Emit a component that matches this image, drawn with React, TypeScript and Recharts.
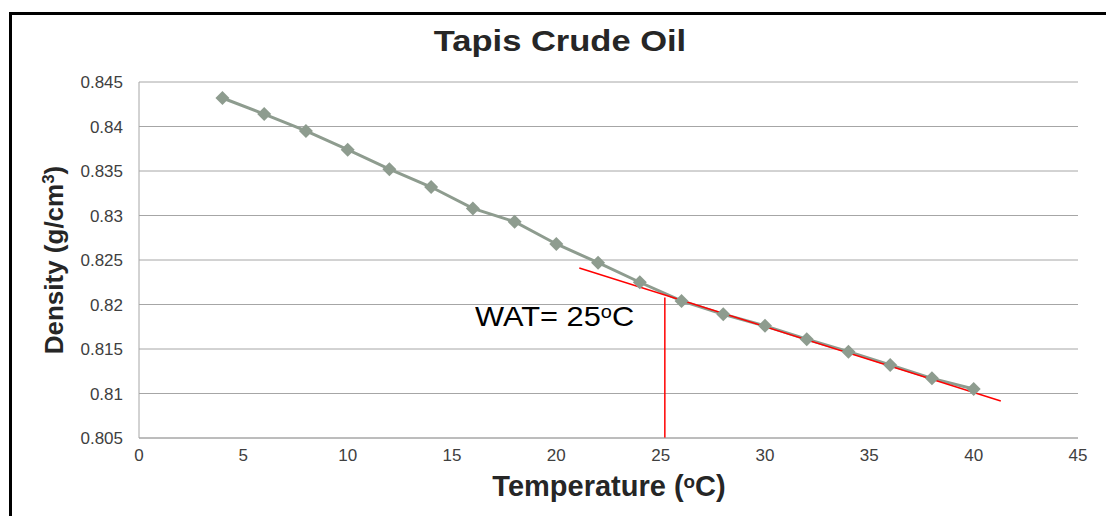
import React from "react";
import {
  ComposedChart,
  Line,
  XAxis,
  YAxis,
  CartesianGrid,
  ReferenceLine,
} from "recharts";

// Measured density of Tapis crude oil against temperature
const temperatures = [4, 6, 8, 10, 12, 14, 16, 18, 20, 22, 24, 26, 28, 30, 32, 34, 36, 38, 40];
const densities = [
  0.8432, 0.8414, 0.8395, 0.8374, 0.8352, 0.8332, 0.8308, 0.8293, 0.8268, 0.8247,
  0.8225, 0.8204, 0.8189, 0.8176, 0.8161, 0.8147, 0.8132, 0.8117, 0.8105,
];

const xTicks = [0, 5, 10, 15, 20, 25, 30, 35, 40, 45];
const yTicks = [0.805, 0.81, 0.815, 0.82, 0.825, 0.83, 0.835, 0.84, 0.845];

// Tangent fitted to the high-temperature branch, and the wax appearance temperature
const tangentStart = { x: 21.1, y: 0.8241 };
const tangentEnd = { x: 41.3, y: 0.80915 };
const watTemperature = 25.2;
const watDensity = 0.8208;

const data = temperatures.map((t, i) => ({ t, d: densities[i] }));

const FONT = "'Liberation Sans', Arial, sans-serif";
const LINE_COLOR = "#8e9c8f";

const Diamond = (props: any) => {
  const { cx, cy, index } = props;
  if (cx == null || cy == null) return null;
  const r = 7;
  return (
    <path
      key={`d-${index}`}
      d={`M${cx},${cy - r} L${cx + r},${cy} L${cx},${cy + r} L${cx - r},${cy} Z`}
      fill={LINE_COLOR}
      stroke="none"
    />
  );
};

const sup = (shift: string) => ({ fontSize: "0.65em", verticalAlign: shift });

export default function App() {
  return (
    <div
      style={{
        position: "absolute",
        left: 0,
        top: 0,
        width: 1106,
        height: 516,
        background: "#fff",
        fontFamily: FONT,
        overflow: "hidden",
      }}
    >
      <div
        style={{
          position: "absolute",
          left: 9,
          top: 12,
          width: 1200,
          height: 600,
          borderTop: "3px solid #000",
          borderLeft: "3px solid #000",
        }}
      />
      <div style={{ position: "absolute", left: 0, top: 0 }}>
        <ComposedChart
          width={1106}
          height={516}
          data={data}
          margin={{ top: 82, right: 28, bottom: 48, left: 79 }}
        >
          <CartesianGrid vertical={false} stroke="#a6a6a6" strokeWidth={1} />
          <XAxis
            dataKey="t"
            type="number"
            domain={[0, 45]}
            ticks={xTicks}
            tickLine={false}
            axisLine={{ stroke: "#a6a6a6" }}
            tick={{ fill: "#404040", fontSize: 17, fontFamily: FONT }}
            tickMargin={5}
            interval={0}
          />
          <YAxis
            type="number"
            domain={[0.805, 0.845]}
            ticks={yTicks}
            width={60}
            tickLine={false}
            axisLine={{ stroke: "#a6a6a6" }}
            tick={{ fill: "#404040", fontSize: 17, fontFamily: FONT }}
            tickMargin={10}
            interval={0}
            allowDataOverflow
          />
          <Line
            dataKey="d"
            stroke={LINE_COLOR}
            strokeWidth={3}
            dot={Diamond}
            activeDot={false}
            isAnimationActive={false}
          />
          <ReferenceLine
            segment={[tangentStart, tangentEnd]}
            stroke="#ff0000"
            strokeWidth={1.5}
            ifOverflow="visible"
          />
          <ReferenceLine
            segment={[
              { x: watTemperature, y: watDensity },
              { x: watTemperature, y: 0.805 },
            ]}
            stroke="#ff0000"
            strokeWidth={1.5}
            ifOverflow="visible"
          />
        </ComposedChart>
      </div>
      <div
        style={{
          position: "absolute",
          left: 560,
          top: 24,
          transform: "translateX(-50%) scaleX(1.15)",
          whiteSpace: "nowrap",
          fontSize: 30,
          fontWeight: "bold",
          color: "#262626",
        }}
      >
        Tapis Crude Oil
      </div>
      <div
        style={{
          position: "absolute",
          left: 609,
          top: 470,
          transform: "translateX(-50%)",
          whiteSpace: "nowrap",
          fontSize: 29,
          fontWeight: "bold",
          color: "#262626",
        }}
      >
        Temperature (<sup style={sup("0.45em")}>o</sup>C)
      </div>
      <div
        style={{
          position: "absolute",
          left: 54,
          top: 260,
          transform: "translate(-50%, -50%) rotate(-90deg)",
          whiteSpace: "nowrap",
          fontSize: 26,
          fontWeight: "bold",
          color: "#262626",
        }}
      >
        Density (g/cm<sup style={sup("0.5em")}>3</sup>)
      </div>
      <div
        style={{
          position: "absolute",
          left: 475,
          top: 301,
          transform: "scaleX(1.1)",
          transformOrigin: "left center",
          whiteSpace: "nowrap",
          fontSize: 28,
          color: "#000",
        }}
      >
        WAT= 25<sup style={sup("0.45em")}>o</sup>C
      </div>
    </div>
  );
}
